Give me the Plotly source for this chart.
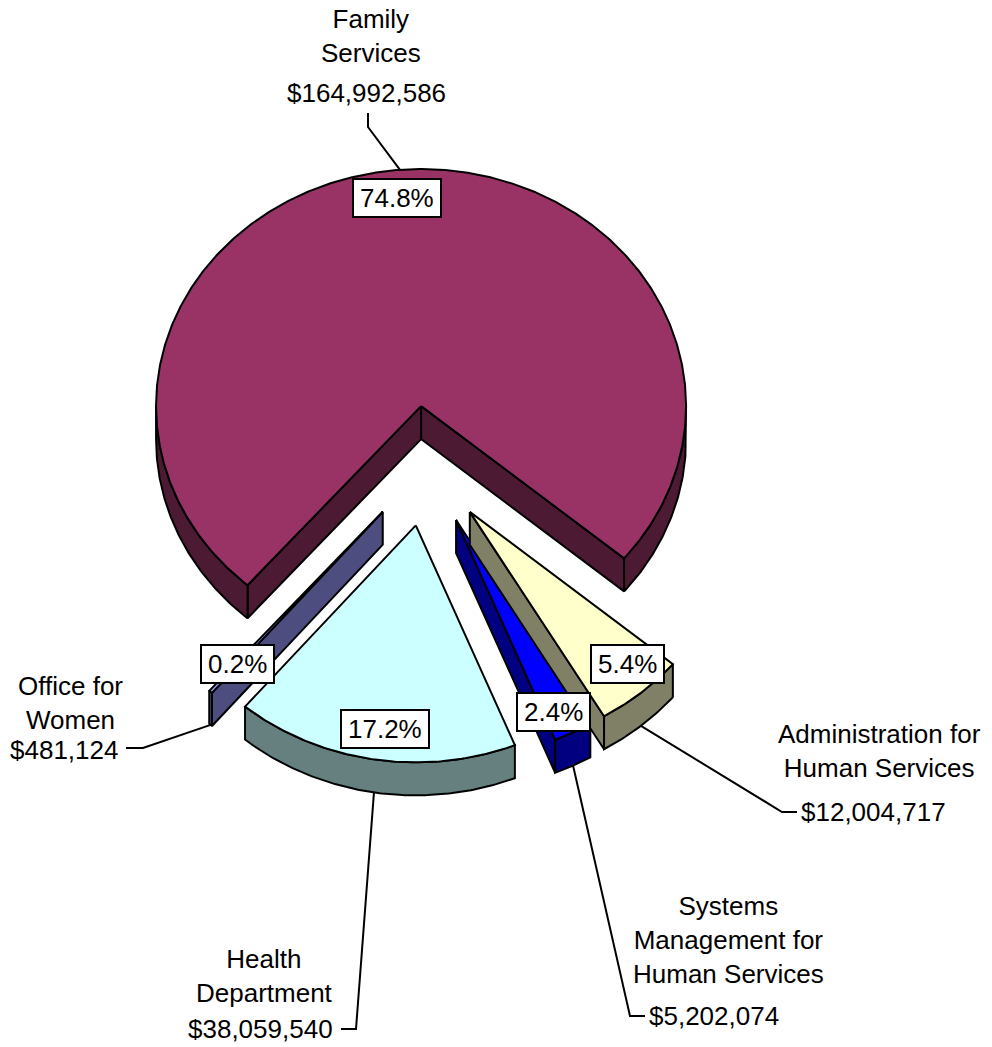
import numpy as np
import plotly.graph_objects as go

# ---- data ---------------------------------------------------------------
names = [
    "Family<br>Services",
    "Administration for<br>Human Services",
    "Systems<br>Management for<br>Human Services",
    "Health<br>Department",
    "Office for<br>Women",
]
values = [164992586, 12004717, 5202074, 38059540, 481124]
pct_labels = ["74.8%", "5.4%", "2.4%", "17.2%", "0.2%"]
value_labels = ["$164,992,586", "$12,004,717", "$5,202,074", "$38,059,540", "$481,124"]

# ---- styling / layout ---------------------------------------------------
top_colors = ["#993366", "#FFFFCC", "#0000FF", "#CCFFFF", "#9999FF"]
side_colors = ["#4D1A33", "#808066", "#000080", "#668080", "#4D4D80"]

W, H = 992, 1047
CX, CY = 426.4, 466.0          # pie centre (pixels)
RX, RY = 265.0, 237.0          # ellipse radii of the tilted pie
DEPTH = 33.0                   # thickness of the pie
EXPLODE = 0.2536               # explosion as a fraction of the radius
START = 229.1                  # angle (deg) where the first slice begins; slices go clockwise
FONT = "Liberation Sans, Arial, sans-serif"
FS = 26
LW = 2.0

draw_order = [0, 4, 3, 2, 1]

# percent-box centres and label placements (pixels)
pct_pos = [(397, 198), (627, 664), (553, 712), (385, 729), (237, 664)]
name_pos = [(371, 36), (879, 751), (728, 940), (264, 976), (70, 703)]
value_pos = [(366, 93, "center"), (799, 812, "left"), (647, 1016, "left"),
             (335, 1029, "right"), (120, 750, "right")]
# elbow points of the leader lines, from the label end towards the slice
leader_elbows = [
    [(368, 113), (368, 127)],
    [(797, 812), (782, 812)],
    [(645, 1016), (630, 1016)],
    [(341, 1029), (356, 1029)],
    [(126, 748), (143, 748)],
]

# ---- geometry -----------------------------------------------------------
vals = np.array(values, dtype=float)
shares = vals / vals.sum()
cum = np.concatenate([[0.0], np.cumsum(shares)])


def rim(ax, ay, t_deg, drop=0.0):
    t = np.radians(t_deg)
    return ax + RX * np.cos(t), ay - RY * np.sin(t) + drop


def arc(ax, ay, t0, t1, drop=0.0, n=None):
    if n is None:
        n = max(2, int(abs(t1 - t0) / 0.5) + 2)
    ts = np.linspace(t0, t1, n)
    xs, ys = rim(ax, ay, ts, drop)
    return list(xs), list(ys)


slices = []
for i in range(len(values)):
    t_hi = START - cum[i] * 360.0
    t_lo = t_hi - shares[i] * 360.0
    mid = 0.5 * (t_lo + t_hi)
    m = np.radians(mid)
    ax = CX + EXPLODE * RX * np.cos(m)
    ay = CY - EXPLODE * RY * np.sin(m)
    slices.append(dict(t_lo=t_lo, t_hi=t_hi, mid=mid, ax=ax, ay=ay))

fig = go.Figure()


def add_poly(xs, ys, fill, lw=LW):
    fig.add_trace(go.Scatter(
        x=xs + [xs[0]], y=ys + [ys[0]], mode="lines", fill="toself",
        fillcolor=fill, line=dict(color="black", width=lw),
        hoverinfo="skip", showlegend=False))


for i in draw_order:
    s = slices[i]
    ax, ay, t_lo, t_hi = s["ax"], s["ay"], s["t_lo"], s["t_hi"]
    side = side_colors[i]

    # radial cut faces that face the viewer
    for t, visible in ((t_lo, np.cos(np.radians(t_lo)) > 0),
                       (t_hi, np.cos(np.radians(t_hi)) < 0)):
        if visible:
            rx_, ry_ = rim(ax, ay, t)
            add_poly([ax, rx_, rx_, ax], [ay, ry_, ry_ + DEPTH, ay + DEPTH], side)

    # outer curved wall on the near half of the ellipse
    for k in range(-2, 2):
        a = max(t_lo, 180 + 360 * k)
        b = min(t_hi, 360 + 360 * k)
        if b > a:
            x1, y1 = arc(ax, ay, a, b)
            x2, y2 = arc(ax, ay, b, a, DEPTH)
            add_poly(x1 + x2, y1 + y2, side)

    # top face
    xa, ya = arc(ax, ay, t_lo, t_hi)
    add_poly([ax] + xa, [ay] + ya, top_colors[i])

# leader lines
for i, s in enumerate(slices):
    drop = 0.0 if np.sin(np.radians(s["mid"])) > 0 else DEPTH
    px, py = rim(s["ax"], s["ay"], s["mid"], drop)
    pts = leader_elbows[i] + [(px, py)]
    fig.add_trace(go.Scatter(
        x=[p[0] for p in pts], y=[p[1] for p in pts], mode="lines",
        line=dict(color="black", width=LW), hoverinfo="skip", showlegend=False))

# text widths for the percent boxes (Arial metrics)
EM = {".": 0.278, "%": 0.889}


def text_w(s):
    return sum(EM.get(c, 0.556) for c in s) * FS


annotations = []
for i in range(len(values)):
    x, y = pct_pos[i]
    annotations.append(dict(
        x=x, y=y, xref="x", yref="y", text=pct_labels[i], showarrow=False,
        font=dict(family=FONT, size=FS, color="black"),
        bgcolor="white", bordercolor="black", borderwidth=2, borderpad=0,
        width=text_w(pct_labels[i]) + 12, height=36,
        xanchor="center", yanchor="middle"))
    nx, ny = name_pos[i]
    annotations.append(dict(
        x=nx, y=ny, xref="x", yref="y", text=names[i], showarrow=False,
        font=dict(family=FONT, size=FS, color="black"), align="center",
        xanchor="center", yanchor="middle"))
    vx, vy, anc = value_pos[i]
    annotations.append(dict(
        x=vx, y=vy, xref="x", yref="y", text=value_labels[i], showarrow=False,
        font=dict(family=FONT, size=FS, color="black"),
        xanchor=anc, yanchor="middle"))

fig.update_layout(
    width=W, height=H, margin=dict(l=0, r=0, t=0, b=0),
    paper_bgcolor="white", plot_bgcolor="white",
    xaxis=dict(range=[0, W], visible=False, fixedrange=True),
    yaxis=dict(range=[H, 0], visible=False, fixedrange=True),
    annotations=annotations, showlegend=False,
)

fig.write_html("out.html")
